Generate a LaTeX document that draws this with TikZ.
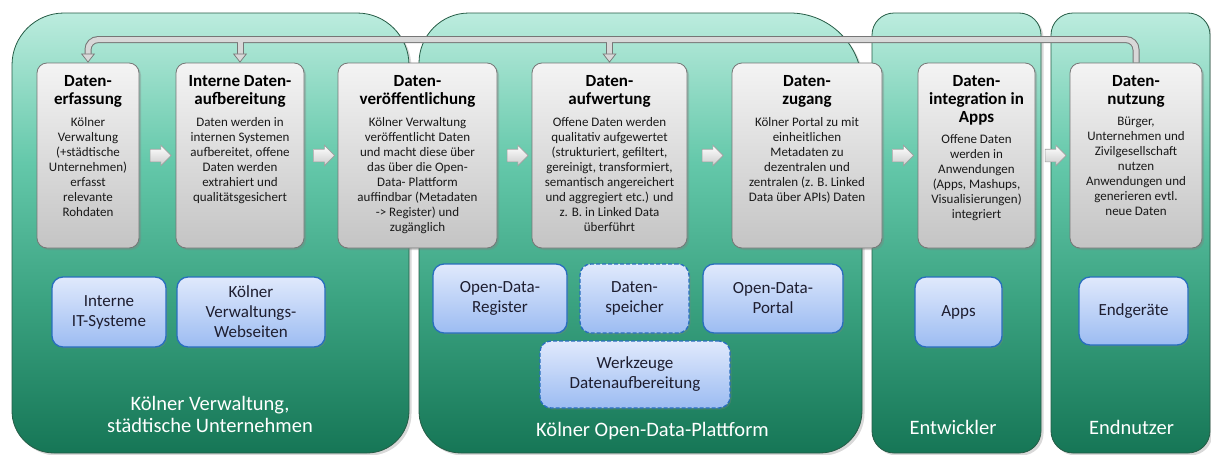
\documentclass[tikz,border=0pt]{standalone}
\usepackage{fontspec}
\setmainfont{Carlito}
\usetikzlibrary{calc,positioning,backgrounds,shadows}
\usetikzlibrary{arrows.meta,shapes.arrows}

\definecolor{panelline}{RGB}{38,92,70}
\definecolor{paneltop}{RGB}{188,236,222}
\definecolor{panelhi}{RGB}{100,200,170}
\definecolor{panelmid}{RGB}{58,162,128}
\definecolor{panelbot}{RGB}{22,118,86}
\definecolor{boxline}{RGB}{118,118,118}
\definecolor{boxtop}{RGB}{244,244,244}
\definecolor{boxbot}{RGB}{196,196,196}
\definecolor{storeline}{RGB}{40,110,190}
\definecolor{storetop}{RGB}{224,233,252}
\definecolor{storebot}{RGB}{156,188,242}
\definecolor{storetext}{RGB}{30,30,48}
\definecolor{bandline}{RGB}{118,118,118}
\definecolor{bandfill}{RGB}{216,216,216}

\pgfdeclareverticalshading{panelshade}{100bp}{color(0bp)=(panelbot); color(25bp)=(panelbot); color(42bp)=(panelmid); color(58bp)=(panelhi); color(75bp)=(paneltop); color(100bp)=(paneltop)}

\tikzset{
  panel/.style={draw=panelline, line width=0.8pt, shading=panelshade,
    drop shadow={shadow xshift=2.5pt, shadow yshift=-2.5pt, opacity=.3}},
  stage/.style={draw=boxline, line width=0.8pt, rounded corners=10pt,
    top color=boxtop, bottom color=boxbot, minimum height=185pt, inner sep=0pt,
    drop shadow={shadow xshift=2pt, shadow yshift=-2pt, opacity=.35}},
  stagetitle/.style={font=\fontsize{17}{18}\selectfont\bfseries, align=center, inner sep=0pt},
  stagetext/.style={font=\fontsize{13}{15}\selectfont, text=black!90, align=center, inner sep=0pt},
  store/.style={draw=storeline, line width=1.3pt, rounded corners=11pt,
    top color=storetop, bottom color=storebot, align=center, inner sep=0pt,
    font=\fontsize{17}{20}\selectfont, text=storetext,
    drop shadow={shadow xshift=1.5pt, shadow yshift=-1.5pt, opacity=.3}},
  storedash/.style={store, dash pattern=on 4pt off 2pt},
  flow/.style={single arrow, draw=gray!75, line width=0.6pt, top color=white,
    bottom color=gray!40, minimum height=21pt, text height=12pt, text depth=0pt,
    single arrow head extend=4pt, inner sep=0pt},
  bandtip/.style={draw=bandline, line width=0.7pt,
    -{Triangle[length=9pt,width=14pt,fill=bandfill]}},
  group/.style={text=white, font=\fontsize{20.5}{22}\selectfont, inner sep=0pt}
}

\begin{document}
\begin{tikzpicture}[x=1pt,y=-1pt]
\useasboundingbox (0,0) rectangle (1211,455);

% stages
\node[stage, minimum width=102pt] (b1) at (88,155.5) {};
\node[stage, minimum width=128pt] (b2) at (240,155.5) {};
\node[stage, minimum width=159pt] (b3) at (417.5,155.5) {};
\node[stage, minimum width=155pt] (b4) at (609.5,155.5) {};
\node[stage, minimum width=150pt] (b5) at (807,155.5) {};
\node[stage, minimum width=117pt] (b6) at (976.5,155.5) {};
\node[stage, minimum width=132pt] (b7) at (1136,155.5) {};

\node[stagetitle, below=13pt of b1.north] (b1t) {Daten-\\erfassung};
\node[stagetext, below=9pt of b1t] (b1x) {Kölner\\Verwaltung\\(+städtische\\Unternehmen)\\erfasst\\relevante\\Rohdaten};
\node[stagetitle, below=13pt of b2.north] (b2t) {Interne Daten-\\aufbereitung};
\node[stagetext, below=9pt of b2t] (b2x) {Daten werden in\\internen Systemen\\aufbereitet, offene\\Daten werden\\extrahiert und\\qualitätsgesichert};
\node[stagetitle, below=13pt of b3.north] (b3t) {Daten-\\veröffentlichung};
\node[stagetext, below=9pt of b3t] (b3x) {Kölner Verwaltung\\veröffentlicht Daten\\und macht diese über\\das über die Open-\\Data- Plattform\\auffindbar (Metadaten\\-> Register) und\\zugänglich};
\node[stagetitle, below=13pt of b4.north] (b4t) {Daten-\\aufwertung};
\node[stagetext, below=9pt of b4t] (b4x) {Offene Daten werden\\qualitativ aufgewertet\\(strukturiert, gefiltert,\\gereinigt, transformiert,\\semantisch angereichert\\und aggregiert etc.) und\\z. B. in Linked Data\\überführt};
\node[stagetitle, below=13pt of b5.north] (b5t) {Daten-\\zugang};
\node[stagetext, below=9pt of b5t] (b5x) {Kölner Portal zu mit\\einheitlichen\\Metadaten zu\\dezentralen und\\zentralen (z. B. Linked\\Data über APIs) Daten};
\node[stagetitle, below=13pt of b6.north] (b6t) {Daten-\\integration in\\Apps};
\node[stagetext, below=9pt of b6t] (b6x) {Offene Daten\\werden in\\Anwendungen\\(Apps, Mashups,\\Visualisierungen)\\integriert};
\node[stagetitle, below=13pt of b7.north] (b7t) {Daten-\\nutzung};
\node[stagetext, below=9pt of b7t] (b7x) {Bürger,\\Unternehmen und\\Zivilgesellschaft\\nutzen\\Anwendungen und\\generieren evtl.\\neue Daten};

\foreach \pa/\pb in {b1/b2,b2/b3,b3/b4,b4/b5,b5/b6,b6/b7}
    \node[flow] (f\pa\pb) at ($(\pa.east)!.5!(\pb.west)$) {};

% systems
\node[store, minimum width=114pt, minimum height=70pt] (s1) at (109,312) {Interne\\IT-Systeme};
\node[store, minimum width=148pt, minimum height=70pt] (s2) at (251,312) {Kölner\\Verwaltungs-\\Webseiten};
\node[store, minimum width=134pt, minimum height=69pt] (s3) at (500,298.5) {Open-Data-\\Register};
\node[storedash, minimum width=109pt, minimum height=69pt] (s4) at (634.5,298.5) {Daten-\\speicher};
\node[store, minimum width=140pt, minimum height=69pt] (s5) at (773,298.5) {Open-Data-\\Portal};
\node[storedash, minimum width=190pt, minimum height=67pt] (s6) at (635,374.5) {Werkzeuge\\Datenaufbereitung};
\node[store, minimum width=87pt, minimum height=70pt] (s7) at (958.5,312) {Apps};
\node[store, minimum width=109pt, minimum height=68pt] (s8) at (1133.5,311) {Endgeräte};

% groups
\node[group, align=center, anchor=north] (g1) at (210,396) {Kölner Verwaltung,\\städtische Unternehmen};
\node[group, anchor=base] (g2) at (652.5,436) {Kölner Open-Data-Plattform};
\node[group, anchor=base] (g3) at (953,434) {Entwickler};
\node[group, anchor=base] (g4) at (1131.5,434) {Endnutzer};

\begin{scope}[on background layer]
    \path[panel] (12,230) [rounded corners=52pt] -- (12,13) -- (409,13) -- (409,230)
        [rounded corners=42pt] -- (409,453) -- (12,453) -- cycle;
    \path[panel] (419,230) [rounded corners=50pt] -- (419,13) -- (640,13)
        [rounded corners=72pt] -- (862,13) -- (862,230)
        [rounded corners=42pt] -- (862,453) -- (419,453) -- cycle;
    \path[panel, rounded corners=22pt] (872,13) rectangle (1041,453);
    \path[panel, rounded corners=22pt] (1051,13) rectangle (1210,453);
    % feedback band
    \foreach \w/\c in {7pt/bandline,5pt/bandfill}{
        \draw[line width=\w, draw=\c, rounded corners=10pt] (b7.north) -- ++(0,-23) -| ($(b1.north)+(0,-8)$);
        \draw[line width=\w, draw=\c] ($(b2.north)+(0,-23)$) -- ($(b2.north)+(0,-8)$);
        \draw[line width=\w, draw=\c] ($(b4.north)+(0,-23)$) -- ($(b4.north)+(0,-8)$);
    }
    \foreach \bx in {b1,b2,b4}
        \draw[bandtip] ($(\bx.north)+(0,-9)$) -- (\bx.north);
\end{scope}
\end{tikzpicture}
\end{document}
